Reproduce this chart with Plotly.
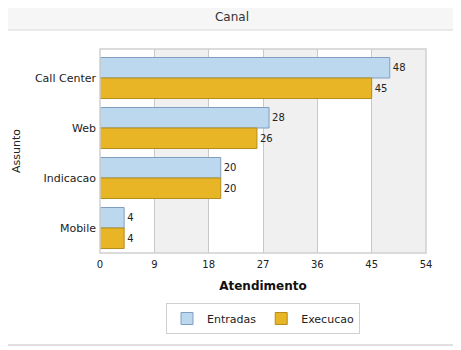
import plotly.graph_objects as go

categories = ["Call Center", "Web", "Indicacao", "Mobile"]
entradas = [48, 28, 20, 4]
execucao = [45, 26, 20, 4]
x_ticks = [0, 9, 18, 27, 36, 45, 54]

# page has an 8px default body margin; lay out in page coordinates
O = 8
PW, PH = 461, 350
W, H = PW - O, PH - O
pl, pr, pt, pb = 100, 426, 49, 253  # plot area in page pixels
L, R, T, B = pl - O, W - (pr - O), pt - O, H - (pb - O)
pw, ph = W - L - R, H - T - B
cat_px = 50.0
top_pad = (78 - pt) / cat_px  # first category centre at page y=78

def px(xp):
    return (xp - O - L) / pw

def py(yp):
    return (H - B - (yp - O)) / ph

fig = go.Figure()
fig.add_trace(go.Bar(
    y=categories, x=entradas, name="Entradas", orientation="h",
    marker=dict(color="#bcd8ef", line=dict(color="#7f9fc0", width=1)),
    text=entradas, textposition="outside", cliponaxis=False,
    textfont=dict(size=10, color="#222", family="DejaVu Sans"),
))
fig.add_trace(go.Bar(
    y=categories, x=execucao, name="Execucao", orientation="h",
    marker=dict(color="#e8b526", line=dict(color="#b58d1c", width=1)),
    text=execucao, textposition="outside", cliponaxis=False,
    textfont=dict(size=10, color="#222", family="DejaVu Sans"),
))

shapes = []
for i in range(len(x_ticks) - 1):
    if i % 2 == 1:
        shapes.append(dict(type="rect", xref="x", yref="paper", x0=x_ticks[i], x1=x_ticks[i + 1],
                           y0=0, y1=1, fillcolor="#f0f0f0", line=dict(width=0), layer="below"))
# header band
shapes.append(dict(type="rect", xref="paper", yref="paper", x0=px(2), x1=px(470), y0=py(30), y1=py(2),
                   fillcolor="#f6f6f6", line=dict(color="#d8d8d8", width=1), layer="below"))
# outer frame bottom
shapes.append(dict(type="line", xref="paper", yref="paper", x0=px(0), x1=px(470), y0=py(345), y1=py(345),
                   line=dict(color="#e0e0e0", width=2)))
# plot border
shapes.append(dict(type="rect", xref="paper", yref="paper", x0=0, x1=1, y0=0, y1=1,
                   line=dict(color="#d0d0d0", width=1.5), fillcolor="rgba(0,0,0,0)"))

fig.update_layout(
    width=W, height=H,
    margin=dict(l=L, r=R, t=T, b=B),
    paper_bgcolor="white", plot_bgcolor="white",
    font=dict(family="DejaVu Sans", size=10, color="#222"),
    barmode="group", bargap=0.18, bargroupgap=0.0,
    title=dict(text="Canal", x=(232 - O) / W, xref="container", xanchor="center",
               y=1 - (17 - O) / H, yanchor="middle",
               font=dict(size=12, color="#333", family="DejaVu Sans")),
    xaxis=dict(range=[0, 54], tickvals=x_ticks, ticktext=[str(v) for v in x_ticks],
               showgrid=True, gridcolor="#c8c8c8", gridwidth=1, zeroline=False, automargin=False,
               showline=False, ticks="", ticklabelstandoff=4, tickfont=dict(size=10, color="#222"),
               title=dict(text="<b>Atendimento</b>", font=dict(size=12, color="#111"), standoff=12)),
    yaxis=dict(range=[-top_pad + ph / cat_px, -top_pad], showgrid=False, zeroline=False, ticks="",
               automargin=False, ticklabelstandoff=3, tickfont=dict(size=11, color="#222"),
               title=dict(text="Assunto", font=dict(size=11, color="#222"), standoff=12)),
    legend=dict(orientation="h", x=0.5, xanchor="center", y=py(303), yanchor="top",
                bordercolor="#d0d0d0", borderwidth=1, bgcolor="white",
                itemwidth=30, font=dict(size=11, color="#222"), traceorder="normal"),
    shapes=shapes,
)

fig.write_html("out.html")
